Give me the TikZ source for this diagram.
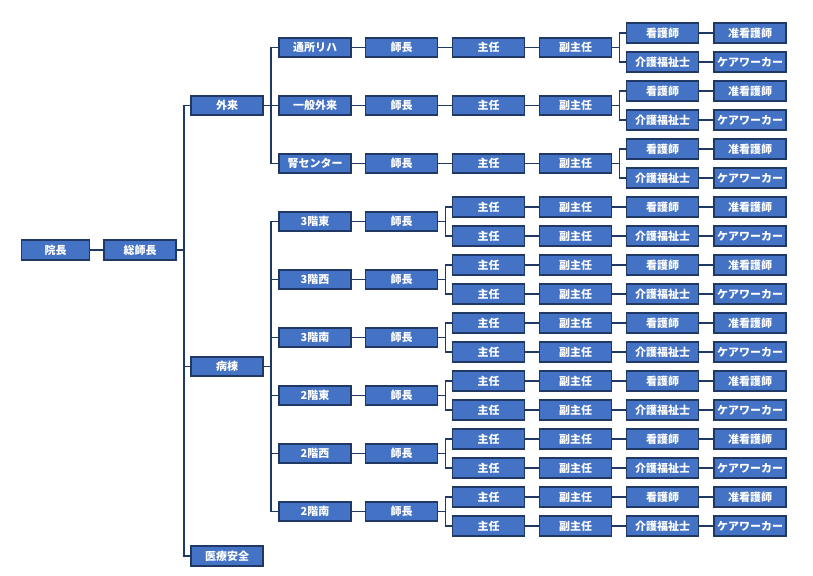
\documentclass[tikz,border=0pt]{standalone}
\usepackage{fontspec}
\setmainfont{Noto Sans CJK JP}
\definecolor{boxfill}{HTML}{4472C4}
\definecolor{boxline}{HTML}{1F3864}
\begin{document}
\begin{tikzpicture}[x=1pt,y=-1pt,
  box/.style={draw=boxline,fill=boxfill,line width=1.8pt,minimum width=72pt,minimum height=19.5pt,inner sep=0pt,text=white,font=\fontsize{11}{12}\selectfont\bfseries},
  conn/.style={draw=boxline,line width=1.8pt}]
\useasboundingbox (0,0) rectangle (813,575);
% top levels
\node[box,minimum width=68pt] (inchou) at (55.5,250) {院長};
\node[box] (soushichou) at (140,250) {総師長};
\node[box] (gairai) at (227,105.5) {外来};
\node[box] (byoutou) at (227,366.5) {病棟};
\node[box] (iryou) at (227,556) {医療安全};
\draw[conn] (inchou.east) -- (soushichou.west);
\foreach \c in {gairai,byoutou,iryou}
  \draw[conn] (soushichou.east) -- ++(7,0) |- (\c.west);
% outpatient groups
\foreach \lab [count=\g from 0] in {通所リハ,一般外来,腎センター}{
  \pgfmathsetmacro{\yy}{47.5+58*\g}
  \pgfmathsetmacro{\ya}{33+58*\g}
  \pgfmathsetmacro{\yb}{62+58*\g}
  \node[box] (o\g) at (315,\yy) {\lab};
  \node[box] (os\g) at (401.5,\yy) {師長};
  \node[box] (oc\g) at (488.5,\yy) {主任};
  \node[box] (od\g) at (575.5,\yy) {副主任};
  \node[box] (on\g) at (662.5,\ya) {看護師};
  \node[box] (oj\g) at (750,\ya) {准看護師};
  \node[box] (ok\g) at (662.5,\yb) {介護福祉士};
  \node[box] (ow\g) at (750,\yb) {ケアワーカー};
  \draw[conn] (gairai.east) -- ++(7,0) |- (o\g.west);
  \draw[conn] (o\g.east) -- (os\g.west);
  \draw[conn] (os\g.east) -- (oc\g.west);
  \draw[conn] (oc\g.east) -- (od\g.west);
  \draw[conn] (od\g.east) -- ++(7,0) |- (on\g.west);
  \draw[conn] (od\g.east) -- ++(7,0) |- (ok\g.west);
  \draw[conn] (on\g.east) -- (oj\g.west);
  \draw[conn] (ok\g.east) -- (ow\g.west);
}
% ward groups
\foreach \lab [count=\g from 0] in {3階東,3階西,3階南,2階東,2階西,2階南}{
  \pgfmathsetmacro{\yy}{221.5+58*\g}
  \pgfmathsetmacro{\ya}{207+58*\g}
  \pgfmathsetmacro{\yb}{236+58*\g}
  \node[box] (w\g) at (315,\yy) {\lab};
  \node[box] (ws\g) at (401.5,\yy) {師長};
  \node[box] (wca\g) at (488.5,\ya) {主任};
  \node[box] (wda\g) at (575.5,\ya) {副主任};
  \node[box] (wn\g) at (662.5,\ya) {看護師};
  \node[box] (wj\g) at (750,\ya) {准看護師};
  \node[box] (wcb\g) at (488.5,\yb) {主任};
  \node[box] (wdb\g) at (575.5,\yb) {副主任};
  \node[box] (wk\g) at (662.5,\yb) {介護福祉士};
  \node[box] (ww\g) at (750,\yb) {ケアワーカー};
  \draw[conn] (byoutou.east) -- ++(7,0) |- (w\g.west);
  \draw[conn] (w\g.east) -- (ws\g.west);
  \draw[conn] (ws\g.east) -- ++(7,0) |- (wca\g.west);
  \draw[conn] (ws\g.east) -- ++(7,0) |- (wcb\g.west);
  \draw[conn] (wca\g.east) -- (wda\g.west);
  \draw[conn] (wda\g.east) -- (wn\g.west);
  \draw[conn] (wn\g.east) -- (wj\g.west);
  \draw[conn] (wcb\g.east) -- (wdb\g.west);
  \draw[conn] (wdb\g.east) -- (wk\g.west);
  \draw[conn] (wk\g.east) -- (ww\g.west);
}
\end{tikzpicture}
\end{document}
